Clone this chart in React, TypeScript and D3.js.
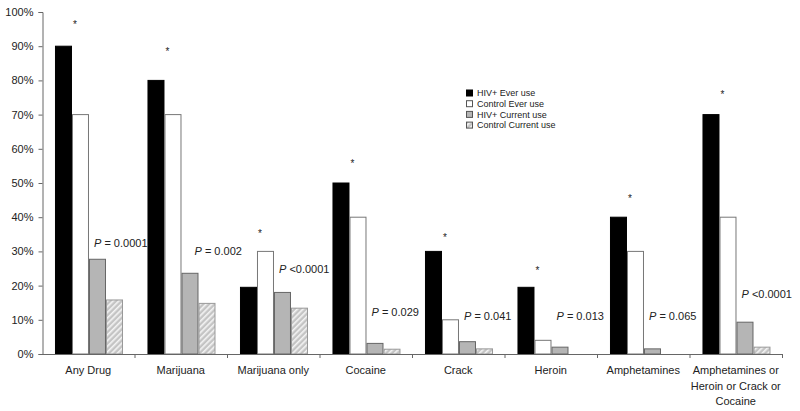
import { axisLeft, scaleBand, scaleLinear, select } from "d3";
import { useEffect, useRef } from "react";

const categories = [
  "Any Drug",
  "Marijuana",
  "Marijuana only",
  "Cocaine",
  "Crack",
  "Heroin",
  "Amphetamines",
  "Amphetamines or Heroin or Crack or Cocaine",
];
const categoryLines = [
  ["Any Drug"],
  ["Marijuana"],
  ["Marijuana only"],
  ["Cocaine"],
  ["Crack"],
  ["Heroin"],
  ["Amphetamines"],
  ["Amphetamines or", "Heroin or Crack or", "Cocaine"],
];
const seriesNames = ["HIV+ Ever use", "Control Ever use", "HIV+ Current use", "Control Current use"];
const hivEver = [90, 80, 19.5, 50, 30, 19.5, 40, 70];
const controlEver = [70, 70, 30, 40, 10, 4, 30, 40];
const hivCurrent = [27.7, 23.6, 18, 3.1, 3.6, 2, 1.5, 9.3];
const controlCurrent = [15.8, 14.8, 13.4, 1.4, 1.5, 0, 0, 2];
const pLabels = ["= 0.0001", "= 0.002", "<0.0001", "= 0.029", "= 0.041", "= 0.013", "= 0.065", "<0.0001"];
const pLabelY = [31.3, 29, 23.7, 11.1, 9.9, 9.9, 9.9, 16.4];
const starY = [96.8, 88.9, 35.7, 56.1, 34.5, 24.9, 45.9, 76.3];
const yTicks = [0, 10, 20, 30, 40, 50, 60, 70, 80, 90, 100];

const font = "'Liberation Sans', Arial, sans-serif";

function App() {
  const svgRef = useRef<SVGSVGElement | null>(null);
  const w = 800;
  const h = 411;

  useEffect(() => {
    if (!svgRef.current) return;
    const svg = select(svgRef.current);
    svg.selectAll("*").remove();

    const x = scaleBand<string>().domain(categories).range([42, 782]).padding(0);
    const inner = scaleBand<string>()
      .domain(seriesNames)
      .range([0, x.bandwidth()])
      .paddingInner(0)
      .paddingOuter(0.72)
      .align(0.53);
    const y = scaleLinear().domain([0, 100]).range([354, 12]);

    const defs = svg.append("defs");
    const pat = defs
      .append("pattern")
      .attr("id", "hatch")
      .attr("patternUnits", "userSpaceOnUse")
      .attr("width", 4)
      .attr("height", 4)
      .attr("patternTransform", "rotate(45)");
    pat.append("rect").attr("width", 4).attr("height", 4).attr("fill", "#c4c4c4");
    pat.append("rect").attr("width", 1.6).attr("height", 4).attr("fill", "#f4f4f4");

    const fills = ["#000", "#fff", "#b5b5b5", "url(#hatch)"];
    const strokes = ["#000", "#777", "#666", "#999"];
    const series = [hivEver, controlEver, hivCurrent, controlCurrent];

    // bars (zero values are hidden, indexes kept)
    series.forEach((vals, si) => {
      svg
        .append("g")
        .selectAll("rect")
        .data(vals)
        .join("rect")
        .attr("display", (v) => (v > 0 ? null : "none"))
        .attr("x", (v, i) => x(categories[i])! + inner(seriesNames[si])! + 0.5)
        .attr("y", (v) => y(v))
        .attr("width", inner.bandwidth() - 1)
        .attr("height", (v) => y(0) - y(v))
        .attr("fill", fills[si])
        .attr("stroke", strokes[si])
        .attr("stroke-width", 1);
    });

    // y axis
    const yAxis = axisLeft(y)
      .tickValues(yTicks)
      .tickSize(4)
      .tickPadding(5)
      .tickFormat((d) => `${d}%`);
    const gy = svg.append("g").attr("transform", "translate(42.5,0)").call(yAxis);
    gy.select(".domain").attr("stroke", "#666");
    gy.selectAll(".tick line").attr("stroke", "#666");
    gy.selectAll(".tick text")
      .attr("font-family", font)
      .attr("font-size", 11)
      .attr("fill", "#222");

    // x axis
    const gx = svg.append("g");
    gx.append("line")
      .attr("x1", 42)
      .attr("x2", 782)
      .attr("y1", y(0) + 0.5)
      .attr("y2", y(0) + 0.5)
      .attr("stroke", "#666");
    gx.selectAll("line.tk")
      .data(categories)
      .join("line")
      .classed("tk", true)
      .attr("x1", (c) => x(c)! + x.bandwidth() + 0.5)
      .attr("x2", (c) => x(c)! + x.bandwidth() + 0.5)
      .attr("y1", y(0))
      .attr("y2", y(0) + 4)
      .attr("stroke", "#666");
    gx.selectAll("text.cat")
      .data(categoryLines)
      .join("text")
      .classed("cat", true)
      .attr("x", (d, i) => x(categories[i])! + x.bandwidth() / 2)
      .attr("y", 374)
      .attr("text-anchor", "middle")
      .attr("font-family", font)
      .attr("font-size", 11)
      .attr("fill", "#222")
      .selectAll("tspan")
      .data((d) => d)
      .join("tspan")
      .attr("x", function () {
        return (this as SVGTSpanElement).parentElement!.getAttribute("x");
      })
      .attr("dy", (d, i) => (i === 0 ? 0 : 15.5))
      .text((d) => d);

    // significance stars
    svg
      .append("g")
      .selectAll("text")
      .data(starY)
      .join("text")
      .attr("x", (v, i) => x(categories[i])! + inner(seriesNames[1])! + 3)
      .attr("y", (v) => y(v) + 5)
      .attr("text-anchor", "middle")
      .attr("font-family", font)
      .attr("font-size", 10)
      .attr("fill", "#222")
      .text("*");

    // P values
    const pt = svg
      .append("g")
      .selectAll("text")
      .data(pLabels)
      .join("text")
      .attr("x", (v, i) => x(categories[i])! + inner(seriesNames[2])! + (i === 1 ? 13 : 5))
      .attr("y", (v, i) => y(pLabelY[i]))
      .attr("font-family", font)
      .attr("font-size", 11)
      .attr("fill", "#222");
    pt.append("tspan").attr("font-style", "italic").text("P");
    pt.append("tspan").attr("xml:space", "preserve").text((d) => ` ${d}`);

    // legend
    const lg = svg
      .append("g")
      .selectAll("g")
      .data(seriesNames)
      .join("g")
      .attr("transform", (d, i) => `translate(466, ${93 + i * 10.7})`);
    lg.append("rect")
      .attr("x", 0.5)
      .attr("y", -3)
      .attr("width", 6)
      .attr("height", 6)
      .attr("fill", (d, i) => fills[i])
      .attr("stroke", (d, i) => (i === 0 ? "#000" : "#555"));
    lg.append("text")
      .attr("x", 11)
      .attr("y", 3.3)
      .attr("font-family", font)
      .attr("font-size", 9)
      .attr("fill", "#222")
      .text((d) => d);
  }, []);

  return (
    <div>
      <svg
        ref={svgRef}
        width={w}
        height={h}
        style={{ position: "absolute", left: 0, top: 0, background: "#fff" }}
      ></svg>
    </div>
  );
}

export default App;
